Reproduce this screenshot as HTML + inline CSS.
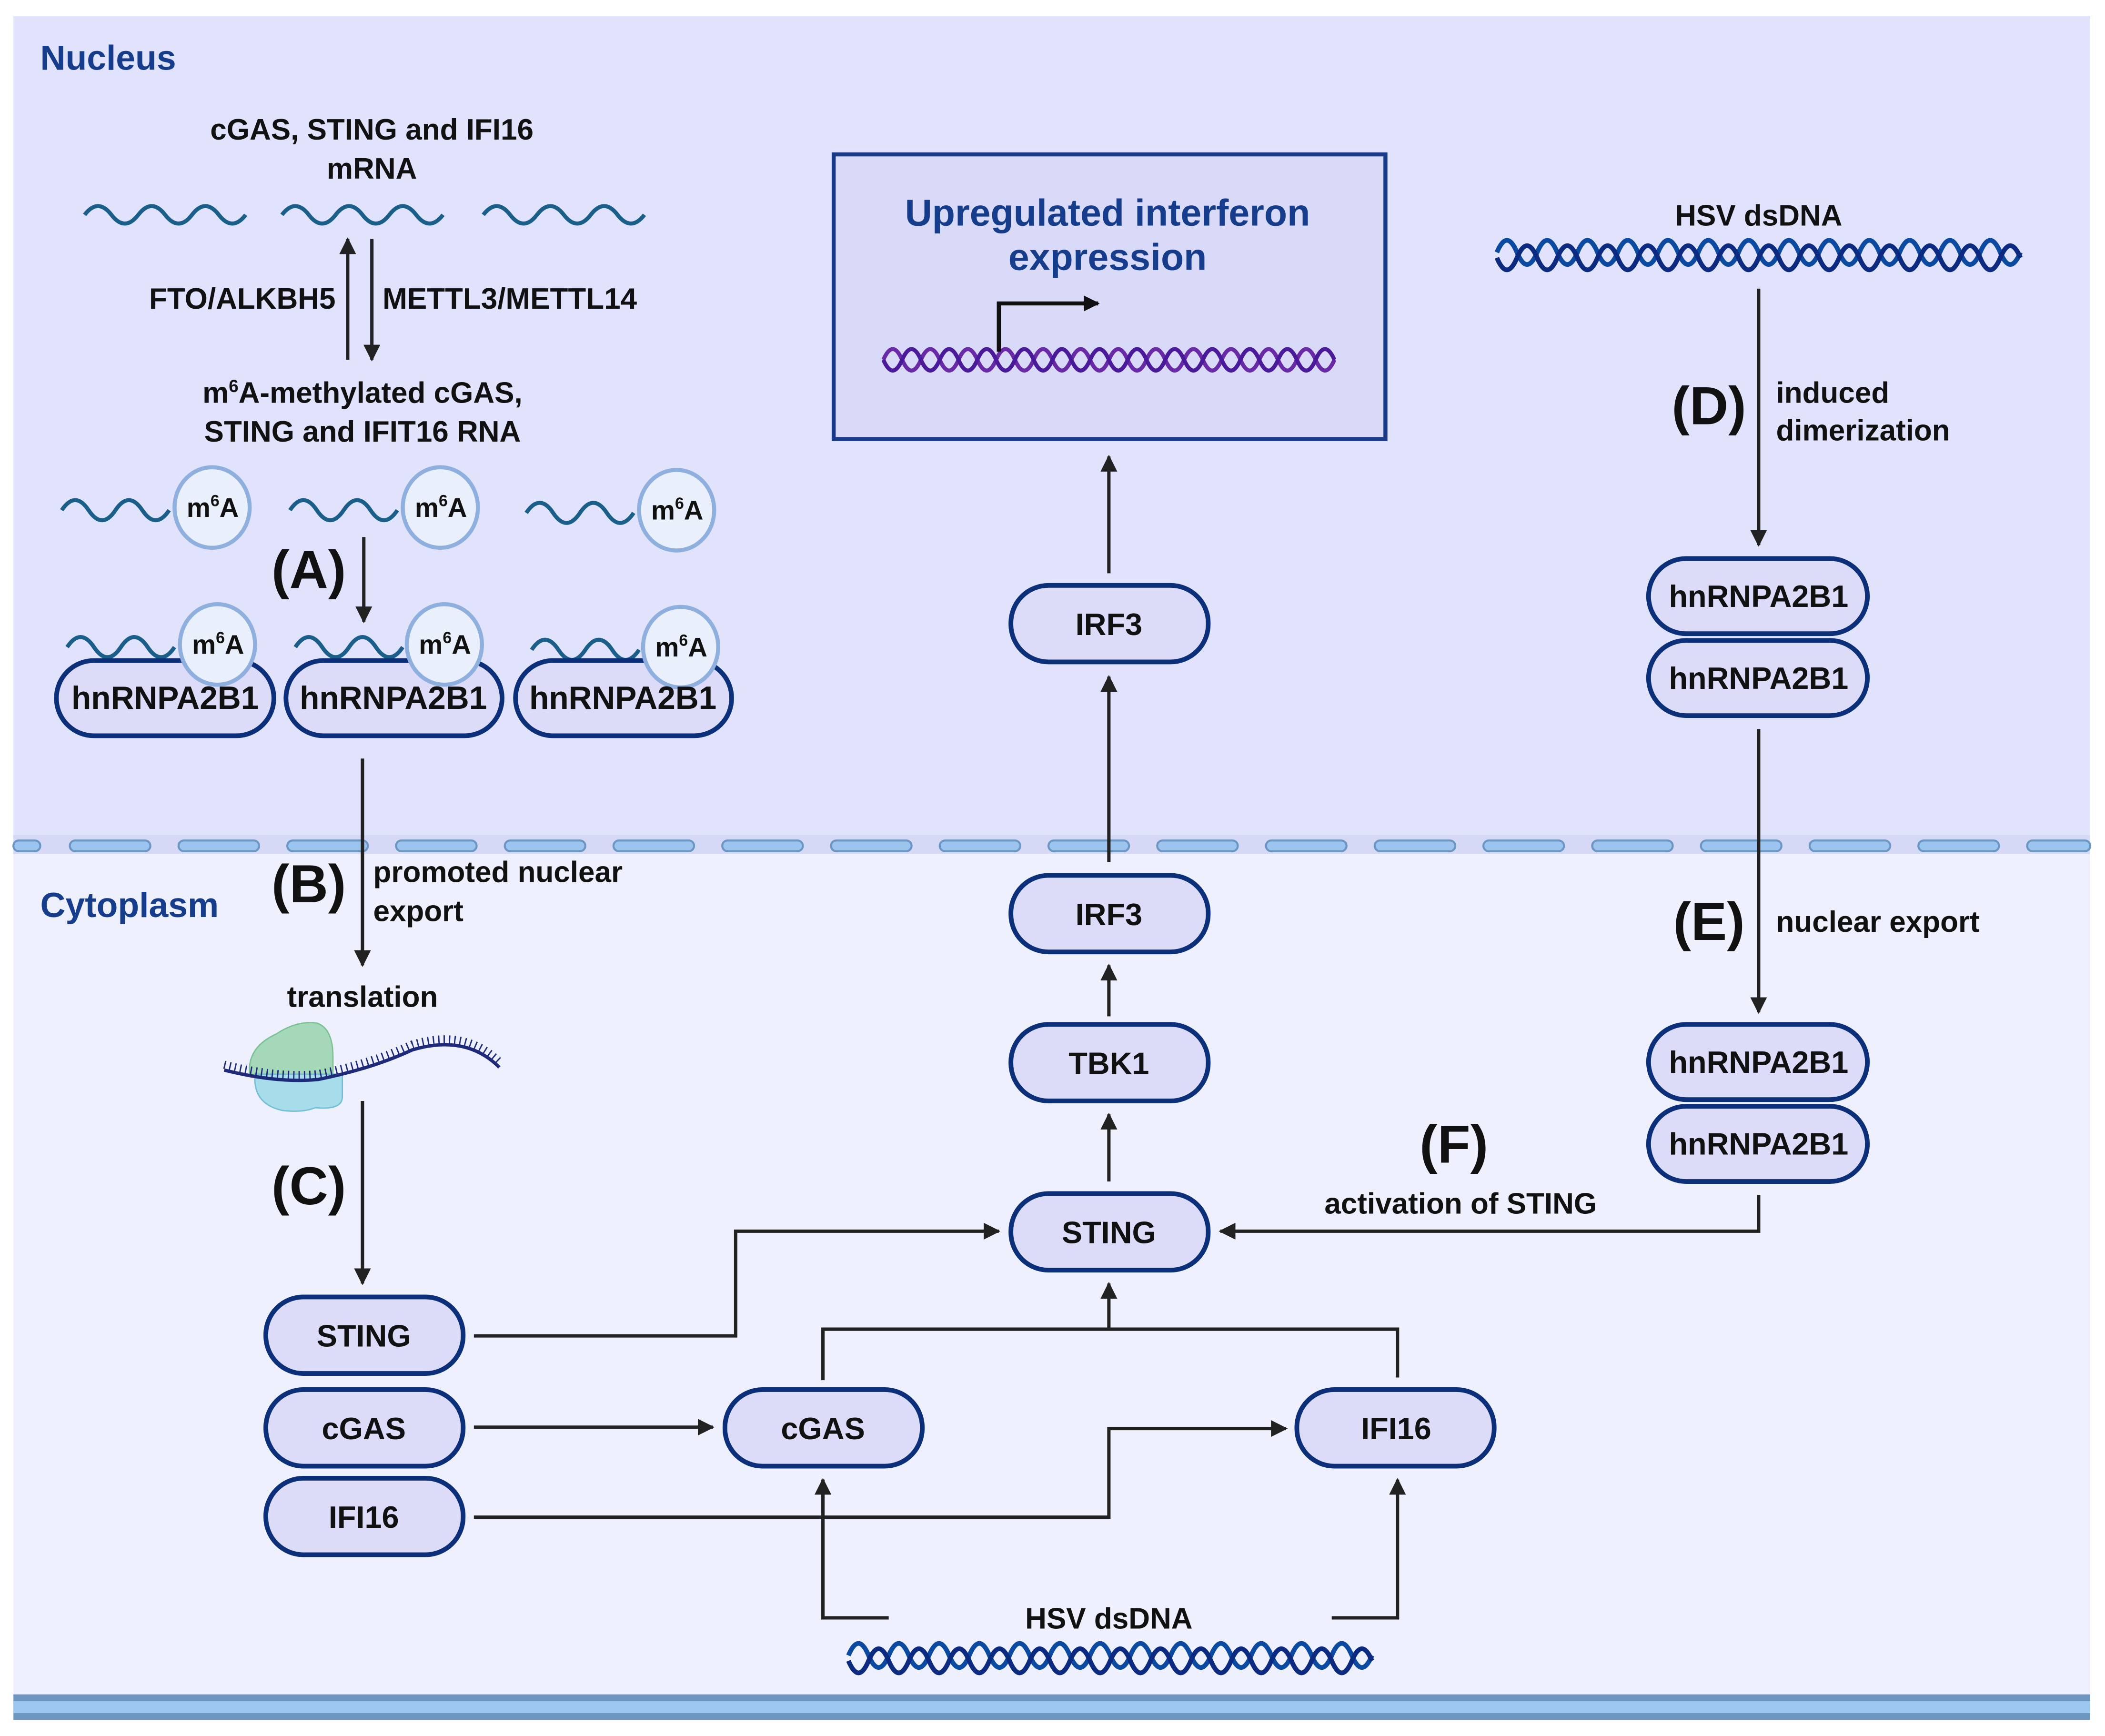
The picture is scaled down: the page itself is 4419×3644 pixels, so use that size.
<!DOCTYPE html>
<html><head><meta charset="utf-8"><style>
html,body{margin:0;padding:0;background:#fff;}
svg{display:block;}
text{font-family:"Liberation Sans",sans-serif;font-weight:bold;fill:#111;}
</style></head><body>
<svg width="4419" height="3644" viewBox="0 0 1568 1293" preserveAspectRatio="none" xmlns="http://www.w3.org/2000/svg">
<defs>
<marker id="ah" viewBox="0 0 10 10" refX="9" refY="5" markerWidth="5" markerHeight="5" orient="auto" markerUnits="strokeWidth">
<path d="M0,0 L10,5 L0,10 z" fill="#222"/></marker>
<marker id="ah2" viewBox="0 0 10 10" refX="9" refY="5" markerWidth="4" markerHeight="4" orient="auto" markerUnits="strokeWidth">
<path d="M0,0 L10,5 L0,10 z" fill="#111"/></marker>
</defs>
<rect x="10" y="12" width="1547" height="620" fill="#e0e3fb"/>
<rect x="10" y="632" width="1547" height="630" fill="#eff0fd"/>
<rect x="10" y="622" width="1547" height="14" fill="#d6d9f6"/>
<!-- dashed membrane -->
<g fill="#9dc4ee" stroke="#6b97c4" stroke-width="1.5">
<rect x="10" y="626" width="20" height="8" rx="4"/>
<rect x="52" y="626" width="60" height="8" rx="4"/>
<rect x="133" y="626" width="60" height="8" rx="4"/>
<rect x="214" y="626" width="60" height="8" rx="4"/>
<rect x="295" y="626" width="60" height="8" rx="4"/>
<rect x="376" y="626" width="60" height="8" rx="4"/>
<rect x="457" y="626" width="60" height="8" rx="4"/>
<rect x="538" y="626" width="60" height="8" rx="4"/>
<rect x="619" y="626" width="60" height="8" rx="4"/>
<rect x="700" y="626" width="60" height="8" rx="4"/>
<rect x="781" y="626" width="60" height="8" rx="4"/>
<rect x="862" y="626" width="60" height="8" rx="4"/>
<rect x="943" y="626" width="60" height="8" rx="4"/>
<rect x="1024" y="626" width="60" height="8" rx="4"/>
<rect x="1105" y="626" width="60" height="8" rx="4"/>
<rect x="1186" y="626" width="60" height="8" rx="4"/>
<rect x="1267" y="626" width="60" height="8" rx="4"/>
<rect x="1348" y="626" width="60" height="8" rx="4"/>
<rect x="1429" y="626" width="60" height="8" rx="4"/>
<rect x="1510" y="626" width="47" height="8" rx="4"/>
</g>
<!-- bottom membrane -->
<rect x="10" y="1262" width="1547" height="19" fill="#6d97c0"/>
<rect x="10" y="1267" width="1547" height="9" fill="#9dc6ef"/>

<text x="30" y="52" font-size="26" style="fill:#163d8c">Nucleus</text>
<text x="30" y="683" font-size="26" style="fill:#163d8c">Cytoplasm</text>

<!-- top mRNA -->
<g fill="none" stroke="#1a5f8a" stroke-width="3">
<path d="M63,160 q10,-13 20,0 t20,0 t20,0 t20,0 t20,0 t20,0"/>
<path d="M210,160 q10,-13 20,0 t20,0 t20,0 t20,0 t20,0 t20,0"/>
<path d="M360,160 q10,-13 20,0 t20,0 t20,0 t20,0 t20,0 t20,0"/>
</g>
<text x="277" y="104" font-size="22" text-anchor="middle">cGAS, STING and IFI16</text>
<text x="277" y="133" font-size="22" text-anchor="middle">mRNA</text>
<line x1="259" y1="268" x2="259" y2="178" stroke="#222" stroke-width="2.5" marker-end="url(#ah)"/>
<line x1="277" y1="178" x2="277" y2="268" stroke="#222" stroke-width="2.5" marker-end="url(#ah)"/>
<text x="250" y="230" font-size="22" text-anchor="end">FTO/ALKBH5</text>
<text x="285" y="230" font-size="22">METTL3/METTL14</text>
<text x="270" y="300" font-size="22" text-anchor="middle">m<tspan font-size="13" dy="-8">6</tspan><tspan dy="8">A-methylated cGAS,</tspan></text>
<text x="270" y="329" font-size="22" text-anchor="middle">STING and IFIT16 RNA</text>

<!-- m6A rna row -->
<g fill="none" stroke="#1a5f8a" stroke-width="3">
<path d="M46,380 q10,-15 20,0 t20,0 t20,0 t20,0"/>
<path d="M216,380 q10,-15 20,0 t20,0 t20,0 t20,0"/>
<path d="M392,382 q10,-15 20,0 t20,0 t20,0 t20,0"/>
</g>
<g fill="#e9f0fc" stroke="#8fb0de" stroke-width="3">
<ellipse cx="158" cy="378" rx="28" ry="30"/>
<ellipse cx="328" cy="378" rx="28" ry="30"/>
<ellipse cx="504" cy="380" rx="28" ry="30"/>
</g>
<g font-size="20">
<text x="139" y="385">m<tspan font-size="12" dy="-8">6</tspan><tspan dy="8">A</tspan></text>
<text x="309" y="385">m<tspan font-size="12" dy="-8">6</tspan><tspan dy="8">A</tspan></text>
<text x="485" y="387">m<tspan font-size="12" dy="-8">6</tspan><tspan dy="8">A</tspan></text>
</g>
<text x="230" y="438" font-size="40" text-anchor="middle">(A)</text>
<line x1="271" y1="400" x2="271" y2="463" stroke="#222" stroke-width="2.5" marker-end="url(#ah)"/>

<!-- hnRNPA2B1 row -->
<g fill="none" stroke="#1a5f8a" stroke-width="3">
<path d="M50,482 q10,-15 20,0 t20,0 t20,0 t20,0"/>
<path d="M220,482 q10,-15 20,0 t20,0 t20,0 t20,0"/>
<path d="M396,484 q10,-15 20,0 t20,0 t20,0 t20,0"/>
</g>
<g fill="#dcdcf8" stroke="#0c2f7a" stroke-width="3.5">
<rect x="42" y="492" width="162" height="56" rx="28"/>
<rect x="213" y="492" width="161" height="56" rx="28"/>
<rect x="384" y="492" width="161" height="56" rx="28"/>
</g>
<g fill="#e9f0fc" stroke="#8fb0de" stroke-width="3">
<ellipse cx="162" cy="480" rx="28" ry="30"/>
<ellipse cx="331" cy="480" rx="28" ry="30"/>
<ellipse cx="507" cy="482" rx="28" ry="30"/>
</g>
<g font-size="20">
<text x="143" y="487">m<tspan font-size="12" dy="-8">6</tspan><tspan dy="8">A</tspan></text>
<text x="312" y="487">m<tspan font-size="12" dy="-8">6</tspan><tspan dy="8">A</tspan></text>
<text x="488" y="489">m<tspan font-size="12" dy="-8">6</tspan><tspan dy="8">A</tspan></text>
</g>
<g font-size="24" text-anchor="middle">
<text x="123" y="528">hnRNPA2B1</text>
<text x="293" y="528">hnRNPA2B1</text>
<text x="464" y="528">hnRNPA2B1</text>
</g>

<!-- B -->
<line x1="270" y1="565" x2="270" y2="719" stroke="#222" stroke-width="2.5" marker-end="url(#ah)"/>
<text x="230" y="672" font-size="40" text-anchor="middle">(B)</text>
<text x="278" y="657" font-size="22">promoted nuclear</text>
<text x="278" y="686" font-size="22">export</text>
<text x="270" y="750" font-size="22" text-anchor="middle">translation</text>
<!-- ribosome -->
<path d="M186,800 q-2,-20 20,-30 q15,-10 30,-8 q12,4 12,25 l0,18 z" fill="#a4d8b8" stroke="#7cc297"/>
<path d="M190,800 q-2,22 20,27 q15,2 25,-2 q20,2 20,-8 l0,-17 z" fill="#a7dcea" stroke="#75bfd6"/>
<path d="M167,797 q40,10 70,7 q40,-8 70,-22 q40,-12 65,13" fill="none" stroke="#1d2a7a" stroke-width="2.5"/>
<path d="M167,797 q40,10 70,7 q40,-8 70,-22 q40,-12 65,13" fill="none" stroke="#1d2a7a" stroke-width="6" stroke-dasharray="1 3" transform="translate(0,-4)"/>

<!-- C -->
<line x1="270" y1="820" x2="270" y2="956" stroke="#222" stroke-width="2.5" marker-end="url(#ah)"/>
<text x="230" y="897" font-size="40" text-anchor="middle">(C)</text>

<!-- interferon box -->
<rect x="621" y="115" width="411" height="212" fill="#d9daf8" stroke="#1a3a8a" stroke-width="3"/>
<text x="825" y="168" font-size="28" text-anchor="middle" style="fill:#163d8c">Upregulated interferon</text>
<text x="825" y="201" font-size="28" text-anchor="middle" style="fill:#163d8c">expression</text>
<g fill="none" stroke-width="3">
<path d="M658,262 q7,-16 14,0 t14,0 t14,0 t14,0 t14,0 t14,0 t14,0 t14,0 t14,0 t14,0 t14,0 t14,0 t14,0 t14,0 t14,0 t14,0 t14,0 t14,0 t14,0 t14,0 t14,0 t14,0 t14,0 t14,0" stroke="#6a2aa8" transform="translate(0,6)"/>
<path d="M658,268 q7,16 14,0 t14,0 t14,0 t14,0 t14,0 t14,0 t14,0 t14,0 t14,0 t14,0 t14,0 t14,0 t14,0 t14,0 t14,0 t14,0 t14,0 t14,0 t14,0 t14,0 t14,0 t14,0 t14,0 t14,0" stroke="#4a1a9a"/>
</g>
<path d="M744,262 L744,226 L818,226" fill="none" stroke="#111" stroke-width="3" marker-end="url(#ah2)"/>

<!-- center column -->
<g fill="#dcdcf8" stroke="#0c2f7a" stroke-width="3.5">
<rect x="753" y="436" width="147" height="57" rx="28"/>
<rect x="753" y="652" width="147" height="57" rx="28"/>
<rect x="753" y="763" width="147" height="57" rx="28"/>
<rect x="753" y="889" width="147" height="57" rx="28"/>
<rect x="198" y="966" width="147" height="57" rx="28"/>
<rect x="198" y="1035" width="147" height="57" rx="28"/>
<rect x="198" y="1101" width="147" height="57" rx="28"/>
<rect x="540" y="1035" width="147" height="57" rx="28"/>
<rect x="966" y="1035" width="147" height="57" rx="28"/>
<rect x="1228" y="416" width="163" height="56" rx="28"/>
<rect x="1228" y="477" width="163" height="56" rx="28"/>
<rect x="1228" y="763" width="163" height="56" rx="28"/>
<rect x="1228" y="824" width="163" height="56" rx="28"/>
</g>
<g font-size="23" text-anchor="middle">
<text x="826" y="473">IRF3</text>
<text x="826" y="689">IRF3</text>
<text x="826" y="800">TBK1</text>
<text x="826" y="926">STING</text>
<text x="271" y="1003">STING</text>
<text x="271" y="1072">cGAS</text>
<text x="271" y="1138">IFI16</text>
<text x="613" y="1072">cGAS</text>
<text x="1040" y="1072">IFI16</text>
<text x="1310" y="452">hnRNPA2B1</text>
<text x="1310" y="513">hnRNPA2B1</text>
<text x="1310" y="799">hnRNPA2B1</text>
<text x="1310" y="860">hnRNPA2B1</text>
</g>

<g fill="none" stroke="#222" stroke-width="2.5">
<line x1="826" y1="427" x2="826" y2="340" marker-end="url(#ah)"/>
<line x1="826" y1="642" x2="826" y2="504" marker-end="url(#ah)"/>
<line x1="826" y1="757" x2="826" y2="719" marker-end="url(#ah)"/>
<line x1="826" y1="880" x2="826" y2="830" marker-end="url(#ah)"/>
<line x1="826" y1="990" x2="826" y2="956" marker-end="url(#ah)"/>
<path d="M613,1028 L613,990 L1041,990 L1041,1026"/>
<path d="M353,995 L548,995 L548,917 L744,917" marker-end="url(#ah)"/>
<line x1="353" y1="1063" x2="531" y2="1063" marker-end="url(#ah)"/>
<path d="M353,1130 L826,1130 L826,1064 L958,1064" marker-end="url(#ah)"/>
<path d="M662,1205 L613,1205 L613,1102" marker-end="url(#ah)"/>
<path d="M992,1205 L1041,1205 L1041,1102" marker-end="url(#ah)"/>
<line x1="1310" y1="215" x2="1310" y2="406" marker-end="url(#ah)"/>
<line x1="1310" y1="543" x2="1310" y2="754" marker-end="url(#ah)"/>
<path d="M1310,890 L1310,917 L909,917" marker-end="url(#ah)"/>
</g>

<text x="826" y="1213" font-size="22" text-anchor="middle">HSV dsDNA</text>
<g fill="none" stroke-width="3.5">
<path d="M632,1233 q7.5,-18 15,0 t15,0 t15,0 t15,0 t15,0 t15,0 t15,0 t15,0 t15,0 t15,0 t15,0 t15,0 t15,0 t15,0 t15,0 t15,0 t15,0 t15,0 t15,0 t15,0 t15,0 t15,0 t15,0 t15,0 t15,0 t15,0" stroke="#0a4aa0"/>
<path d="M632,1237 q7.5,18 15,0 t15,0 t15,0 t15,0 t15,0 t15,0 t15,0 t15,0 t15,0 t15,0 t15,0 t15,0 t15,0 t15,0 t15,0 t15,0 t15,0 t15,0 t15,0 t15,0 t15,0 t15,0 t15,0 t15,0 t15,0 t15,0" stroke="#0b2a80"/>
</g>
<text x="1310" y="168" font-size="22" text-anchor="middle">HSV dsDNA</text>
<g fill="none" stroke-width="3.5">
<path d="M1115,188 q7.5,-18 15,0 t15,0 t15,0 t15,0 t15,0 t15,0 t15,0 t15,0 t15,0 t15,0 t15,0 t15,0 t15,0 t15,0 t15,0 t15,0 t15,0 t15,0 t15,0 t15,0 t15,0 t15,0 t15,0 t15,0 t15,0 t15,0" stroke="#0a4aa0"/>
<path d="M1115,192 q7.5,18 15,0 t15,0 t15,0 t15,0 t15,0 t15,0 t15,0 t15,0 t15,0 t15,0 t15,0 t15,0 t15,0 t15,0 t15,0 t15,0 t15,0 t15,0 t15,0 t15,0 t15,0 t15,0 t15,0 t15,0 t15,0 t15,0" stroke="#0b2a80"/>
</g>
<text x="1273" y="316" font-size="40" text-anchor="middle">(D)</text>
<text x="1323" y="300" font-size="22">induced</text>
<text x="1323" y="328" font-size="22">dimerization</text>
<text x="1273" y="700" font-size="40" text-anchor="middle">(E)</text>
<text x="1323" y="694" font-size="22">nuclear export</text>
<text x="1083" y="866" font-size="40" text-anchor="middle">(F)</text>
<text x="1088" y="904" font-size="22" text-anchor="middle">activation of STING</text>
</svg>
</body></html>
